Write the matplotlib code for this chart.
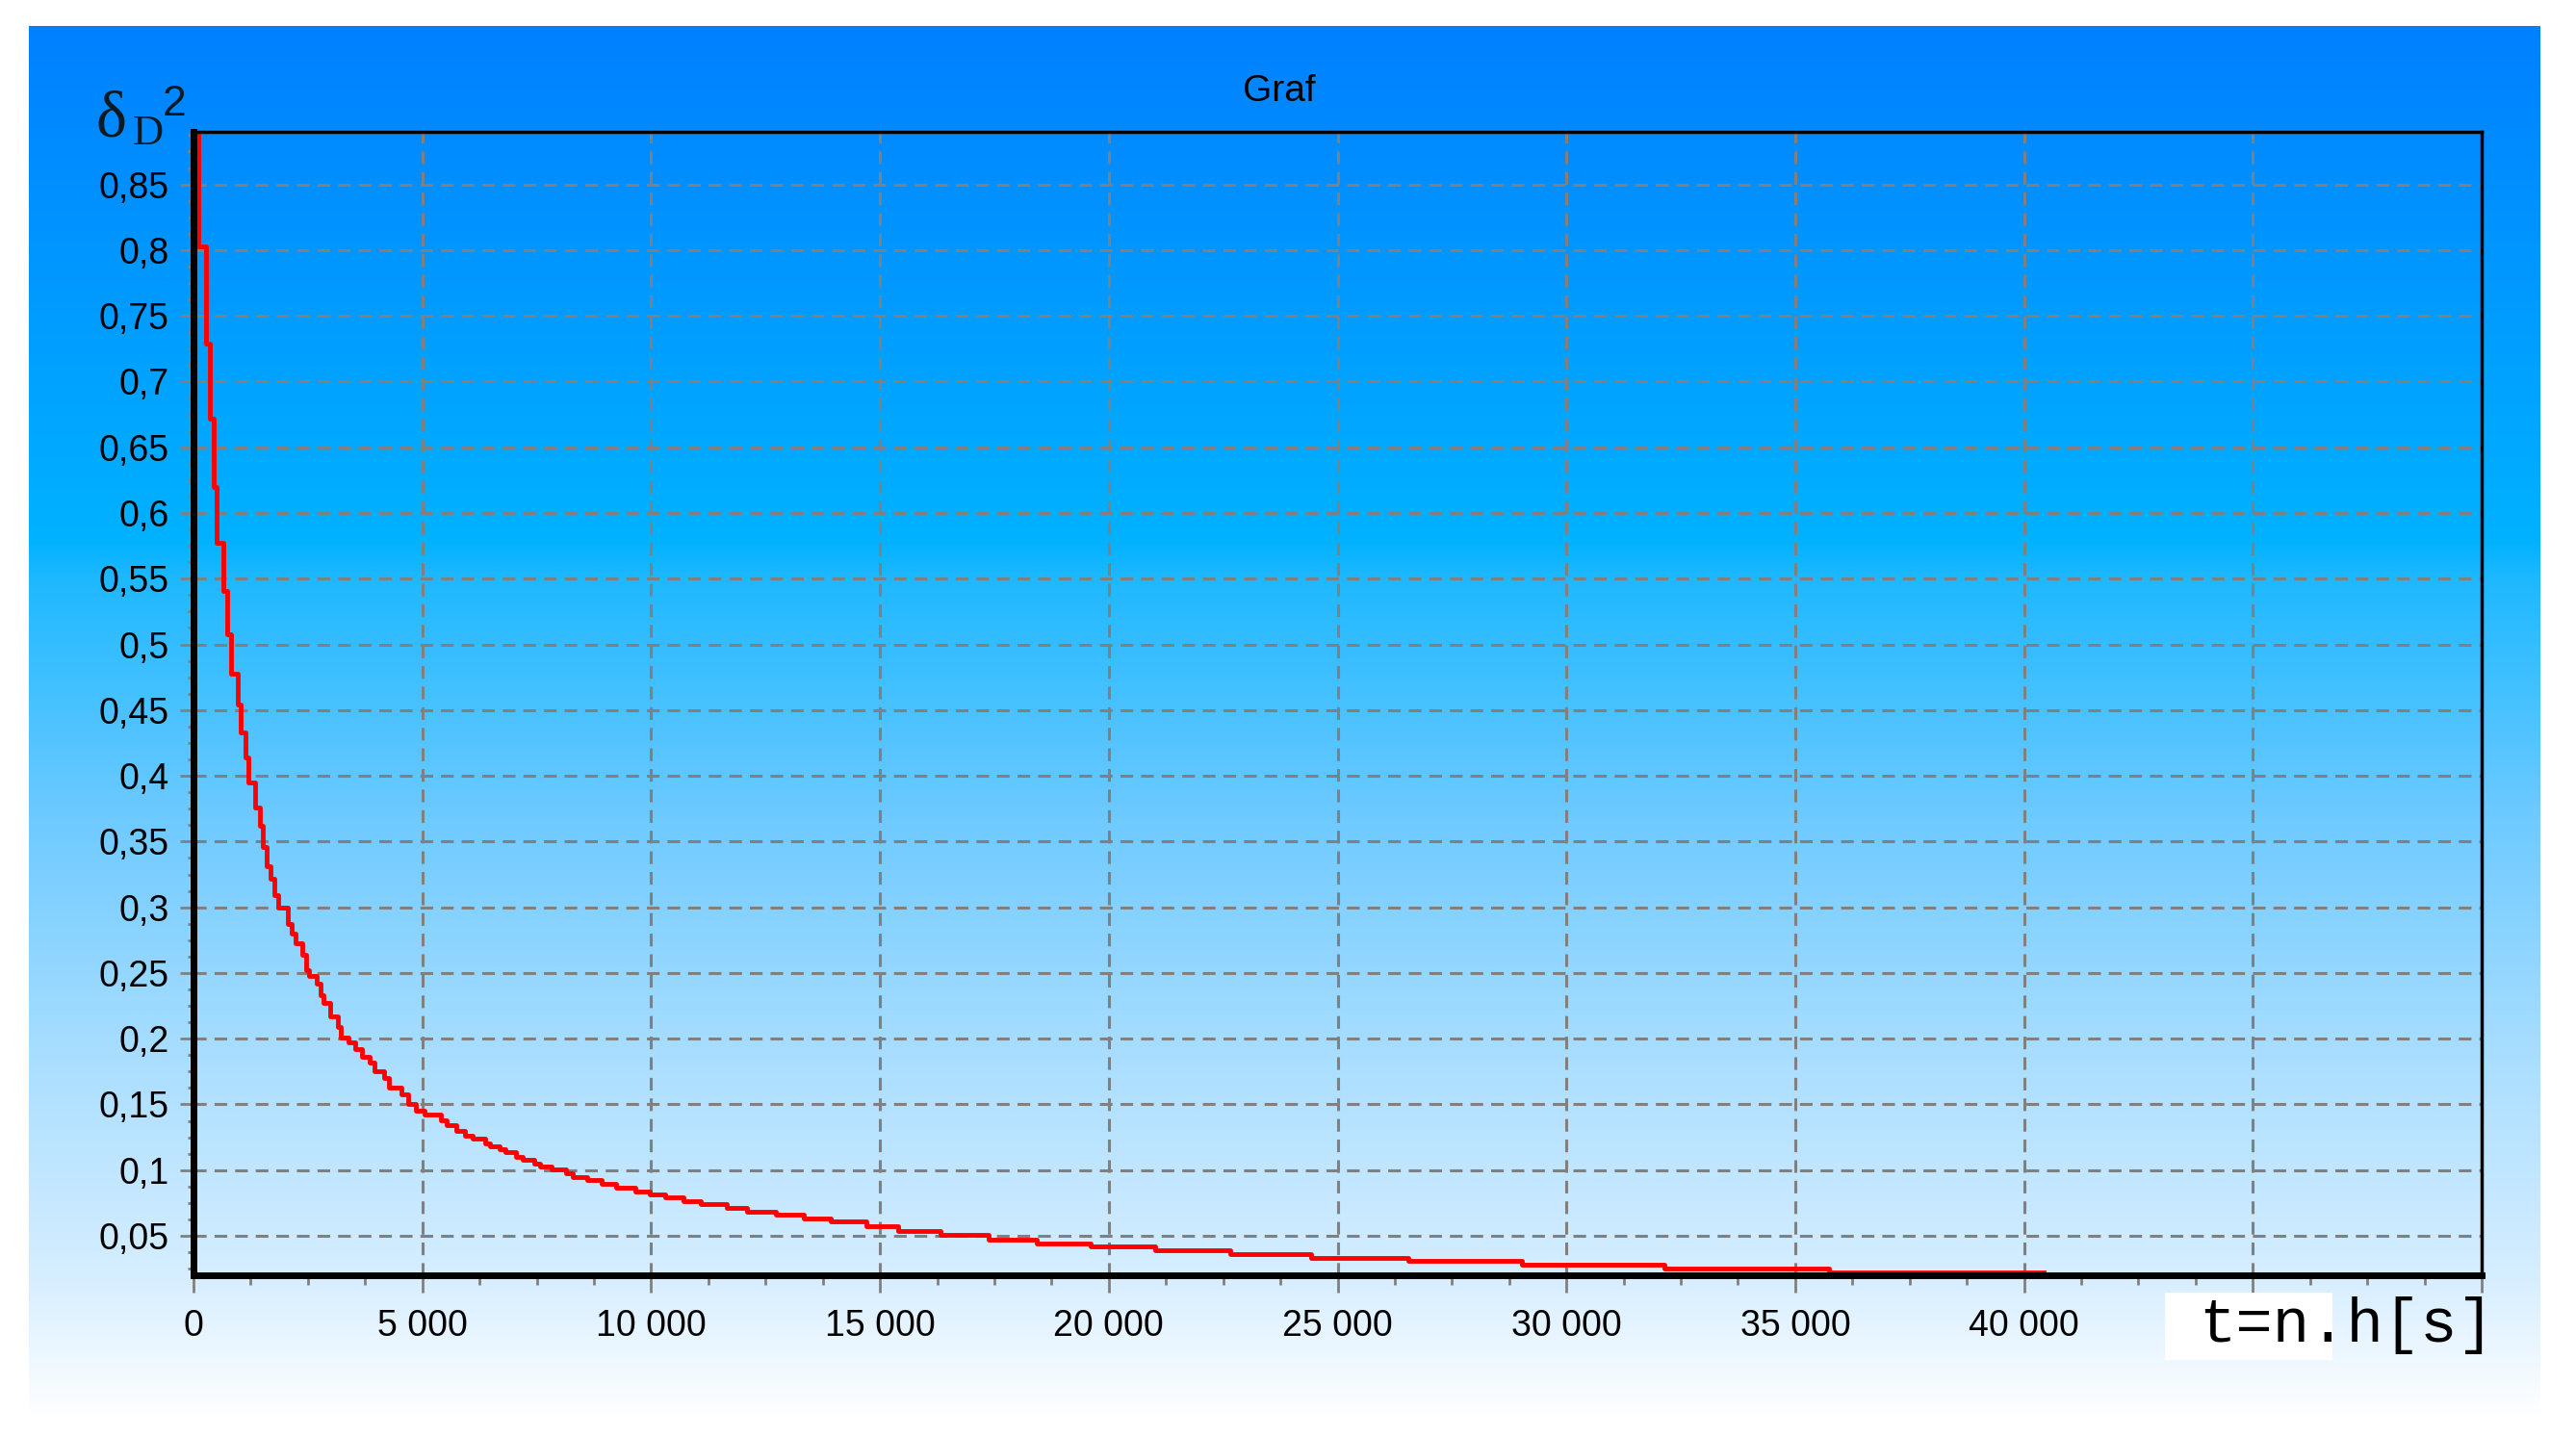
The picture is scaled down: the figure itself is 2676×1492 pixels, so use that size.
import numpy as np
import matplotlib
matplotlib.use('Agg')
import matplotlib.pyplot as plt
from matplotlib.ticker import MultipleLocator, FixedLocator, FixedFormatter
from matplotlib.patches import Rectangle

plt.rcParams['font.family'] = ['Liberation Sans', 'DejaVu Sans']

# step data: time t = n.h [s] and delta_D^2
t_steps = [0, 105, 265, 350, 432, 509, 662, 739, 816, 976,
           1039, 1130, 1199, 1353, 1444, 1513, 1604, 1688, 1764, 1848,
           2057, 2141, 2225, 2385, 2455, 2524, 2699, 2769, 2838, 2992,
           3152, 3222, 3396, 3536, 3675, 3850, 3954, 4163, 4268, 4547,
           4686, 4861, 5049, 5400, 5541, 5751, 5927, 6102, 6383, 6489,
           6699, 6805, 7051, 7191, 7437, 7577, 7823, 8139, 8279, 8596,
           8912, 9228, 9649, 9965, 10316, 10698, 11084, 11646, 12102, 12733,
           13330, 13926, 14700, 15389, 16318, 17365, 18429, 19611, 21014, 22652,
           24426, 26537, 29037, 32145, 35743, 40439]
d2_steps = [0.95, 0.803, 0.729, 0.672, 0.620, 0.577, 0.541, 0.508, 0.478, 0.454,
            0.433, 0.414, 0.395, 0.376, 0.362, 0.346, 0.331, 0.322, 0.309, 0.300,
            0.287, 0.280, 0.273, 0.264, 0.252, 0.248, 0.242, 0.233, 0.227, 0.217,
            0.209, 0.201, 0.197, 0.192, 0.186, 0.182, 0.175, 0.170, 0.163, 0.158,
            0.150, 0.145, 0.1425, 0.1382, 0.134, 0.130, 0.1264, 0.124, 0.1205, 0.118,
            0.1158, 0.1134, 0.1104, 0.108, 0.1052, 0.1028, 0.1005, 0.0976, 0.0948, 0.0922,
            0.0899, 0.0868, 0.084, 0.0816, 0.0792, 0.0764, 0.0741, 0.0712, 0.0686, 0.066,
            0.0632, 0.0608, 0.0575, 0.054, 0.0505, 0.0473, 0.0445, 0.042, 0.039, 0.036,
            0.0335, 0.031, 0.028, 0.0253, 0.0225, 0.0225]

x_ticks = [0, 5000, 10000, 15000, 20000, 25000, 30000, 35000, 40000, 45000, 50000]
x_labels = ['0', '5 000', '10 000', '15 000', '20 000', '25 000', '30 000',
            '35 000', '40 000', '', '']
y_ticks = [0.05, 0.1, 0.15, 0.2, 0.25, 0.3, 0.35, 0.4, 0.45, 0.5,
           0.55, 0.6, 0.65, 0.7, 0.75, 0.8, 0.85]
y_labels = ['0,05', '0,1', '0,15', '0,2', '0,25', '0,3', '0,35', '0,4', '0,45',
            '0,5', '0,55', '0,6', '0,65', '0,7', '0,75', '0,8', '0,85']

W, H = 2676, 1492
fig = plt.figure(figsize=(W / 100, H / 100), dpi=100)

# gradient background (pixel coords)
bg = fig.add_axes([0, 0, 1, 1], zorder=0)
bg.set_xlim(0, W)
bg.set_ylim(H, 0)
bg.axis('off')
stop_y = [27, 560, 600, 850, 1100, 1330, 1470]
stop_c = np.array([[0, 128, 255], [0, 178, 255], [30, 184, 255], [110, 202, 255],
                   [170, 222, 255], [215, 238, 255], [255, 255, 255]]) / 255.0
yy = np.arange(27, 1490)
grad = np.stack([np.interp(yy, stop_y, stop_c[:, k]) for k in range(3)], axis=1)
grad = grad[:, None, :]
bg.imshow(grad, extent=[30, 2639, 1490, 27], aspect='auto', interpolation='bilinear')

# main plot area
l, r, top, bot = 201, 2578, 137, 1325
ax = fig.add_axes([l / W, 1 - bot / H, (r - l) / W, (bot - top) / H], zorder=1)
ax.patch.set_alpha(0)

ax.plot(t_steps, d2_steps, drawstyle='steps-post', color='#ff0000', lw=3.5, zorder=3)

ax.set_xlim(0, 50000)
ax.set_ylim(0.02, 0.89)

ax.xaxis.set_major_locator(FixedLocator(x_ticks))
ax.xaxis.set_major_formatter(FixedFormatter(x_labels))
ax.yaxis.set_major_locator(FixedLocator(y_ticks))
ax.yaxis.set_major_formatter(FixedFormatter(y_labels))
ax.xaxis.set_minor_locator(MultipleLocator(1250))
ax.yaxis.set_minor_locator(MultipleLocator(0.0125))

ax.tick_params(axis='x', which='major', direction='out', length=13, width=2,
               color='#808080', labelsize=27, pad=12)
ax.tick_params(axis='x', which='minor', direction='out', length=7, width=2,
               color='#808080')
ax.tick_params(axis='y', which='major', direction='out', length=10, width=2,
               color='#808080', labelsize=27, pad=8)
ax.tick_params(axis='y', which='minor', direction='out', length=4, width=2,
               color='#808080')

ax.grid(True, which='major', color='#808080', linestyle=(0, (4.3, 2.7)), linewidth=2.2)
ax.set_axisbelow(True)

for side in ['left', 'bottom']:
    ax.spines[side].set_linewidth(5)
for side in ['top', 'right']:
    ax.spines[side].set_linewidth(2.5)
for s in ax.spines.values():
    s.set_color('black')
    s.set_zorder(4)

# texts
fig.text(1329 / W, 1 - 95 / H, 'Graf', ha='center', va='center', fontsize=28,
         zorder=5)
serif = ['Liberation Serif', 'DejaVu Serif']
ink = '#0a1a22'
fig.text(100 / W, 1 - 142 / H, 'δ', ha='left', va='baseline', fontsize=49,
         family=serif, color=ink, zorder=5)
fig.text(138 / W, 1 - 150 / H, 'D', ha='left', va='baseline', fontsize=32,
         family=serif, color=ink, zorder=5)
fig.text(169 / W, 1 - 120 / H, '2', ha='left', va='baseline', fontsize=32,
         color=ink, zorder=5)

fig.add_artist(Rectangle((2249 / W, 1 - 1413 / H), 174 / W, 70 / H,
                         transform=fig.transFigure, facecolor='white',
                         edgecolor='none', zorder=4))
fig.text(2284 / W, 1 - 1394 / H, 't=n.h[s]', ha='left', va='baseline',
         fontsize=46, family=['Liberation Mono', 'DejaVu Sans Mono'], zorder=5)

fig.savefig('out.png', dpi=100)
